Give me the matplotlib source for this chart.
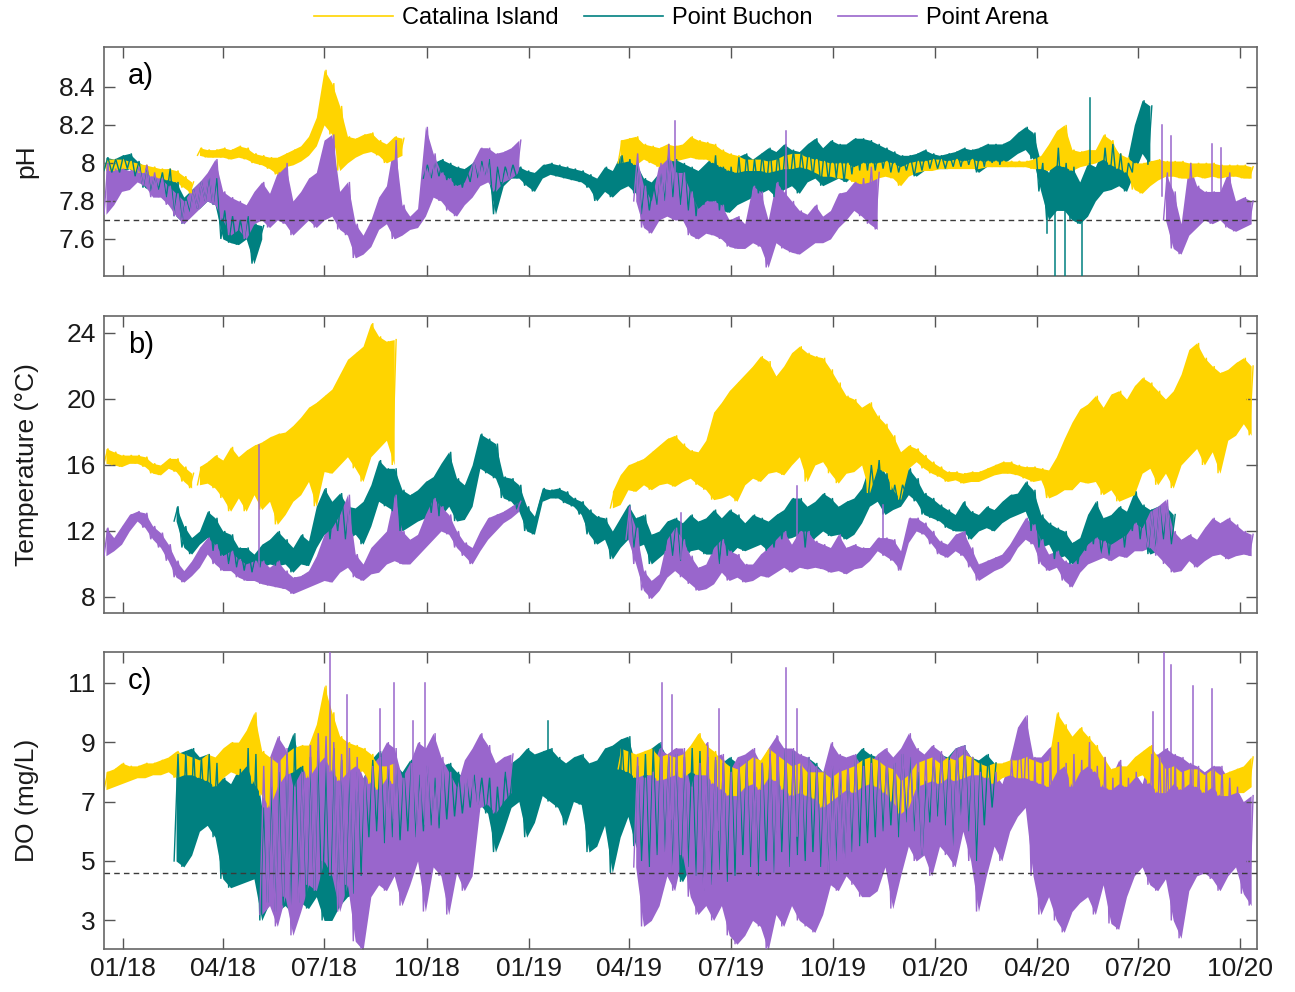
import numpy as np
import matplotlib
matplotlib.use("Agg")
import matplotlib.pyplot as plt
import matplotlib.dates as mdates
from matplotlib.lines import Line2D
from matplotlib.ticker import FuncFormatter

plt.rcParams['font.family'] = ['Liberation Sans', 'DejaVu Sans']

# ---------------- data -------------
# Weekly low / high envelopes of each record; week index counted from BASE_DATE.
# Each series: segment start weeks, weekly lows, weekly highs, and isolated
# spikes (week, extreme value) that stick out of the envelope.
BASE_DATE = "2017-12-15"
SITES = ["Catalina Island", "Point Buchon", "Point Arena"]
COLORS = ["#FFD400", "#008080", "#9966CC"]

# ---- pH ----
PH_CAT_START = [0, 12, 66]
PH_CAT_LO = [
    [7.96, 7.96, 7.97, 7.97, 7.95, 7.95, 7.93, 7.92, 7.91, 7.90, 7.87, 7.84],
    [8.04, 8.03, 8.03, 8.03, 8.02, 8.03, 8.02, 8.00, 7.99, 7.97, 7.94, 7.98, 7.99, 8.01,
     8.04, 8.09, 8.20, 8.15, 7.96, 8.00, 8.03, 8.05, 8.06, 8.04, 8.00, 8.02, 8.04],
    [8.00, 8.01, 7.99, 8.02, 8.00, 7.98, 8.02, 8.01, 8.02, 8.03,
     8.02, 8.02, 8.00, 7.98, 7.96, 7.95, 7.96, 7.96, 7.96, 7.95,
     7.96, 7.97, 7.97, 7.98, 7.97, 7.95, 7.93, 7.93, 7.92, 7.92,
     7.90, 7.89, 7.90, 7.92, 7.93, 7.92, 7.88, 7.93, 7.95, 7.96,
     7.96, 7.97, 7.97, 7.97, 7.97, 7.97, 7.97, 7.98, 7.98, 7.98,
     7.98, 7.98, 7.98, 7.97, 7.97, 7.96, 7.99, 7.98, 7.96, 7.98,
     7.99, 8.00, 8.02, 7.99, 7.97, 7.95, 7.86, 7.84, 7.88, 7.91,
     7.93, 7.93, 7.92, 7.92, 7.93, 7.92, 7.93, 7.92, 7.93, 7.93,
     7.92, 7.92],
]
PH_CAT_HI = [
    [8.02, 8.02, 8.02, 8.01, 8.00, 7.99, 7.98, 7.97, 7.97, 7.96, 7.93, 7.90],
    [8.08, 8.07, 8.07, 8.08, 8.07, 8.09, 8.08, 8.05, 8.04, 8.03, 8.03, 8.05, 8.07, 8.09,
     8.14, 8.24, 8.49, 8.42, 8.30, 8.14, 8.13, 8.15, 8.16, 8.12, 8.10, 8.14, 8.13],
    [8.12, 8.13, 8.14, 8.10, 8.09, 8.08, 8.10, 8.09, 8.10, 8.14,
     8.12, 8.11, 8.10, 8.07, 8.05, 8.04, 8.02, 8.02, 8.02, 8.01,
     8.02, 8.04, 8.05, 8.05, 8.03, 8.02, 8.01, 8.00, 8.00, 8.00,
     7.98, 8.00, 8.00, 8.00, 8.01, 8.00, 7.98, 8.00, 8.01, 8.01,
     8.02, 8.02, 8.01, 8.02, 8.01, 8.02, 8.01, 8.01, 8.01, 8.01,
     8.01, 8.01, 8.01, 8.02, 8.04, 8.10, 8.17, 8.20, 8.07, 8.06,
     8.07, 8.07, 8.15, 8.12, 8.05, 8.03, 8.00, 8.00, 8.01, 8.02,
     8.01, 8.01, 8.01, 8.00, 8.00, 8.00, 8.00, 7.99, 7.99, 7.99,
     7.99, 7.98],
]
PH_CAT_SPIKE_WEEK = []
PH_CAT_SPIKE_VAL = []

PH_BUC_START = [0, 41]
PH_BUC_LO = [
    [7.96, 7.95, 7.95, 7.97, 7.93, 7.87, 7.85, 7.86, 7.82, 7.72,
     7.68, 7.74, 7.76, 7.80, 7.78, 7.60, 7.58, 7.57, 7.60, 7.47, 7.60],
    [7.92, 7.92, 7.93, 7.91, 7.88, 7.87, 7.90, 7.92, 7.93, 7.73,
     7.88, 7.92, 7.92, 7.88, 7.85, 7.92, 7.94, 7.93, 7.92, 7.91,
     7.90, 7.87, 7.80, 7.85, 7.82, 7.86, 7.88, 7.84, 7.73, 7.75,
     7.78, 7.80, 7.82, 7.78, 7.75, 7.72, 7.78, 7.80, 7.75, 7.74,
     7.78, 7.80, 7.82, 7.84, 7.86, 7.82, 7.86, 7.88, 7.84, 7.90,
     7.92, 7.88, 7.90, 7.92, 7.90, 7.94, 7.96, 7.96, 7.96, 7.97,
     7.95, 7.95, 7.96, 7.93, 7.96, 7.97, 7.97, 7.97, 7.98, 7.98,
     7.99, 7.95, 7.98, 8.00, 7.99, 8.02, 8.05, 8.07, 8.02, 7.85,
     7.70, 7.75, 7.75, 7.70, 7.68, 7.72, 7.80, 7.85, 7.86, 7.88,
     7.85, 7.95, 8.05, 7.99],
]
PH_BUC_HI = [
    [8.03, 8.02, 8.04, 8.05, 8.01, 7.98, 7.93, 7.95, 7.97, 7.90,
     7.82, 7.86, 7.90, 7.93, 7.92, 7.75, 7.72, 7.70, 7.72, 7.68, 7.67],
    [7.99, 8.00, 8.02, 8.00, 7.98, 7.97, 8.00, 8.01, 8.02, 7.98,
     7.98, 7.99, 7.98, 7.96, 7.95, 7.99, 8.00, 7.99, 7.98, 7.97,
     7.96, 7.94, 7.92, 7.98, 7.96, 8.04, 8.02, 8.00, 7.92, 7.90,
     7.95, 8.05, 8.02, 8.00, 7.98, 7.96, 8.00, 8.04, 7.98, 7.98,
     8.03, 8.05, 8.02, 8.05, 8.08, 8.06, 8.10, 8.07, 8.06, 8.10,
     8.13, 8.08, 8.12, 8.10, 8.10, 8.13, 8.13, 8.12, 8.10, 8.08,
     8.06, 8.04, 8.04, 8.05, 8.07, 8.05, 8.04, 8.05, 8.06, 8.08,
     8.07, 8.08, 8.10, 8.10, 8.10, 8.12, 8.16, 8.19, 8.16, 8.00,
     7.95, 8.08, 8.00, 7.98, 7.90, 8.00, 7.98, 8.08, 8.10, 8.05,
     8.00, 8.20, 8.33, 8.30],
]
PH_BUC_SPIKE_WEEK = [121.0, 122.1, 123.4, 125.5, 126.6]
PH_BUC_SPIKE_VAL = [7.63, 7.30, 7.30, 7.30, 8.34]

PH_ARE_START = [0, 68, 136]
PH_ARE_LO = [
    [7.73, 7.78, 7.85, 7.86, 7.90, 7.88, 7.82, 7.82, 7.78, 7.72,
     7.68, 7.72, 7.76, 7.80, 7.78, 7.70, 7.62, 7.65, 7.60, 7.68,
     7.70, 7.66, 7.70, 7.68, 7.62, 7.66, 7.70, 7.66, 7.70, 7.72,
     7.65, 7.62, 7.50, 7.52, 7.56, 7.65, 7.68, 7.60, 7.62, 7.65,
     7.66, 7.72, 7.82, 7.80, 7.75, 7.72, 7.78, 7.82, 7.88, 7.90,
     7.85, 7.90, 7.92, 7.95],
    [7.80, 7.66, 7.63, 7.70, 7.72, 7.70, 7.70, 7.62, 7.60, 7.63,
     7.62, 7.60, 7.56, 7.55, 7.55, 7.58, 7.56, 7.45, 7.58, 7.55,
     7.53, 7.52, 7.55, 7.58, 7.58, 7.60, 7.66, 7.70, 7.75, 7.72,
     7.68, 7.65],
    [7.70, 7.55, 7.52, 7.62, 7.66, 7.70, 7.68, 7.70, 7.66, 7.64, 7.66, 7.68],
]
PH_ARE_HI = [
    [8.00, 7.97, 7.97, 7.96, 7.98, 7.99, 7.95, 7.92, 7.88, 7.84,
     7.80, 7.86, 7.90, 7.95, 8.02, 7.85, 7.82, 7.80, 7.78, 7.85,
     7.90, 7.84, 7.95, 8.00, 7.80, 7.85, 7.92, 7.95, 8.12, 8.15,
     7.85, 7.90, 7.68, 7.62, 7.70, 7.82, 7.88, 8.12, 7.78, 7.72,
     7.76, 8.19, 8.05, 7.95, 7.92, 7.88, 7.90, 8.00, 8.08, 8.08,
     8.05, 8.06, 8.08, 8.12],
    [8.05, 7.88, 7.80, 8.00, 8.10, 7.95, 7.95, 7.85, 7.76, 7.80,
     7.80, 7.78, 7.70, 7.72, 7.68, 7.88, 7.85, 7.70, 7.90, 7.85,
     7.80, 7.75, 7.73, 7.78, 7.72, 7.75, 7.84, 7.85, 7.90, 7.92,
     7.98, 7.95],
    [7.95, 7.85, 7.68, 8.00, 7.88, 7.85, 7.85, 7.85, 7.95, 7.80, 7.82, 7.80],
]
PH_ARE_SPIKE_WEEK = [73.3, 87.6, 135.8, 137.0, 142.2, 143.4]
PH_ARE_SPIKE_VAL = [8.22, 8.17, 8.20, 8.14, 8.10, 8.08]

# ---- Temperature (deg C) ----
T_CAT_START = [0, 12, 65]
T_CAT_LO = [
    [16.1, 16.0, 15.9, 16.1, 16.1, 15.9, 15.5, 15.4, 15.8, 15.6, 15.0, 14.6],
    [14.8, 14.9, 14.6, 14.0, 13.2, 14.0, 13.2, 14.2, 13.3, 13.8, 12.4, 13.0, 13.8,
     14.2, 15.0, 13.5, 15.6, 15.5, 16.0, 16.5, 15.8, 15.0, 16.5, 17.0, 17.5, 16.0],
    [13.4, 13.6, 14.5, 14.4, 14.8, 14.5, 14.8, 14.9, 14.7, 15.0,
     15.2, 14.8, 14.5, 13.9, 14.0, 14.2, 13.8, 14.8, 15.2, 15.0,
     15.5, 15.6, 15.4, 16.0, 16.5, 15.0, 16.0, 16.2, 15.5, 14.9,
     15.5, 15.6, 16.0, 14.3, 15.8, 15.6, 14.5, 13.9, 15.8, 16.2,
     15.8, 15.5, 15.3, 15.0, 15.1, 14.9, 15.0, 15.0, 15.2, 15.4,
     15.5, 15.5, 15.4, 15.2, 15.0, 15.1, 14.0, 14.2, 14.5, 14.5,
     15.0, 14.9, 15.0, 14.2, 14.5, 13.8, 14.0, 14.2, 15.5, 15.8,
     14.8, 15.5, 14.6, 16.0, 16.5, 17.0, 16.0, 16.8, 15.5, 17.5,
     17.8, 18.5, 17.8],
]
T_CAT_HI = [
    [17.0, 16.8, 16.6, 16.6, 16.6, 16.5, 16.1, 16.0, 16.4, 16.4, 15.9, 15.5],
    [15.9, 16.2, 16.6, 16.3, 17.1, 16.5, 16.9, 17.2, 17.4, 17.7, 17.9, 18.0, 18.4,
     18.9, 19.5, 19.8, 20.2, 20.6, 21.5, 22.4, 22.8, 23.2, 24.6, 23.8, 23.5, 23.6],
    [14.4, 15.4, 16.0, 16.2, 16.4, 16.8, 17.2, 17.6, 17.8, 17.3,
     16.9, 16.8, 17.5, 19.2, 19.8, 20.5, 21.0, 21.5, 22.0, 22.6,
     22.3, 21.4, 22.0, 22.8, 23.2, 22.8, 22.6, 22.5, 21.8, 21.0,
     20.2, 20.0, 19.5, 19.8, 19.0, 18.5, 17.8, 16.8, 17.2, 17.0,
     16.6, 16.2, 15.9, 15.6, 15.6, 15.5, 15.6, 15.6, 15.8, 16.0,
     16.2, 16.2, 16.0, 15.9, 15.9, 15.8, 15.7, 16.5, 17.6, 18.6,
     19.4, 19.7, 20.2, 19.5, 20.3, 20.5, 20.0, 20.8, 21.3, 21.0,
     20.5, 20.0, 20.5, 21.5, 23.0, 23.4, 22.5, 22.0, 21.6, 21.8,
     22.2, 22.5, 22.0],
]
T_CAT_SPIKE_WEEK = []
T_CAT_SPIKE_VAL = []

T_BUC_START = [9]
T_BUC_LO = [
    [12.6, 11.0, 10.6, 11.2, 11.6, 10.8, 10.5, 10.0, 9.8, 9.6,
     9.5, 9.8, 10.0, 9.9, 10.0, 9.5, 10.0, 9.9, 11.0, 11.8,
     11.5, 12.0, 11.5, 11.8, 11.2, 12.3, 13.8, 13.5, 13.2, 12.0,
     12.3, 12.6, 12.8, 13.1, 12.9, 13.5, 12.6, 12.7, 13.5, 15.8,
     15.5, 15.2, 14.0, 13.8, 13.2, 12.0, 11.8, 13.8, 14.0, 14.0,
     13.7, 13.5, 13.0, 11.8, 11.2, 11.5, 10.3, 11.0, 11.5, 11.0,
     11.2, 10.0, 10.4, 10.8, 10.5, 10.2, 10.8, 10.9, 10.6, 10.6,
     10.0, 10.5, 11.0, 10.8, 11.0, 11.2, 10.8, 11.0, 11.5, 11.6,
     11.8, 11.0, 11.6, 12.0, 11.7, 11.8, 11.5, 11.8, 12.5, 13.5,
     13.8, 13.0, 13.3, 13.5, 14.2, 13.8, 13.0, 12.8, 12.6, 12.2,
     12.0, 12.0, 11.5, 12.0, 12.2, 12.0, 12.5, 12.8, 13.0, 13.2,
     12.0, 11.0, 11.2, 10.3, 10.5, 10.0, 10.0, 10.8, 11.2, 10.5,
     10.5, 11.5, 11.0, 12.0, 11.5, 10.6, 10.8, 11.5, 11.2],
]
T_BUC_HI = [
    [13.5, 12.3, 11.6, 12.0, 13.2, 12.8, 12.0, 11.8, 11.0, 11.0,
     10.6, 11.2, 11.5, 12.0, 11.5, 11.0, 11.8, 11.4, 13.5, 14.6,
     13.8, 14.3, 13.5, 13.4, 13.8, 14.8, 16.3, 15.8, 15.8, 14.5,
     14.2, 14.5, 15.0, 15.3, 16.1, 16.8, 15.2, 14.8, 16.0, 17.9,
     17.6, 17.3, 15.3, 15.2, 14.8, 13.5, 12.9, 14.6, 14.5, 14.6,
     14.4, 14.0, 13.8, 13.3, 12.9, 12.8, 12.0, 12.8, 13.6, 12.8,
     13.0, 11.8, 12.0, 12.6, 12.8, 12.5, 13.0, 12.6, 12.8, 13.3,
     12.8, 13.3, 13.0, 12.5, 13.0, 12.8, 12.6, 13.0, 13.3, 14.0,
     14.0, 13.5, 13.8, 14.3, 14.0, 13.5, 13.8, 14.0, 14.6, 16.0,
     16.3, 15.5, 14.8, 14.8, 15.8, 15.2, 14.3, 14.0, 13.6, 13.3,
     13.0, 13.8, 13.2, 13.0, 13.5, 13.3, 13.8, 14.2, 14.3, 15.0,
     14.5, 13.0, 12.5, 12.2, 12.0, 11.3, 11.6, 13.0, 13.8, 12.8,
     13.0, 13.5, 13.2, 14.4, 13.6, 13.3, 13.5, 13.5, 13.0],
]
T_BUC_SPIKE_WEEK = []
T_BUC_SPIKE_VAL = []

T_ARE_START = [0, 67]
T_ARE_LO = [
    [10.5, 10.8, 11.2, 12.0, 12.6, 12.2, 11.5, 11.0, 10.2, 9.2,
     8.9, 9.3, 9.8, 10.6, 10.0, 9.6, 9.6, 9.2, 9.0, 9.0,
     8.8, 8.7, 8.6, 8.5, 8.2, 8.4, 8.6, 8.8, 9.0, 8.9,
     9.5, 9.8, 9.2, 9.0, 9.4, 9.5, 10.0, 10.2, 10.0, 10.0,
     10.5, 11.0, 11.5, 12.0, 11.8, 11.0, 10.5, 10.0, 10.8, 11.5,
     12.0, 12.5, 12.8, 13.2],
    [11.5, 10.0, 8.4, 7.9, 8.4, 9.2, 9.6, 9.2, 8.8, 8.4,
     8.5, 8.8, 9.5, 9.0, 9.2, 8.9, 9.0, 9.3, 9.2, 9.5,
     9.8, 9.5, 9.8, 9.7, 9.8, 9.7, 9.5, 9.6, 9.4, 9.7,
     9.8, 10.2, 10.8, 10.5, 10.2, 9.6, 11.3, 12.0, 11.8, 11.2,
     10.6, 10.4, 10.8, 10.5, 9.8, 9.0, 9.3, 9.6, 9.8, 10.2,
     11.0, 11.5, 11.2, 10.0, 9.6, 9.8, 9.0, 8.6, 9.5, 10.0,
     10.2, 10.4, 10.2, 10.5, 10.4, 10.8, 10.8, 11.0, 10.5, 10.0,
     9.5, 9.6, 10.2, 9.8, 10.2, 10.5, 10.6, 10.3, 10.5, 10.6,
     10.5],
]
T_ARE_HI = [
    [12.2, 11.6, 12.3, 13.0, 13.2, 13.1, 12.3, 11.9, 11.2, 10.2,
     9.6, 10.2, 11.0, 11.6, 11.2, 10.5, 10.8, 10.3, 10.0, 10.2,
     10.2, 9.8, 10.2, 9.6, 9.2, 9.3, 9.6, 10.5, 11.8, 12.2,
     13.0, 14.2, 10.6, 10.0, 11.0, 11.5, 12.0, 14.2, 12.0, 11.5,
     11.8, 13.0, 14.0, 13.5, 13.0, 12.0, 11.3, 11.0, 12.0, 12.8,
     13.0, 13.2, 13.5, 13.8],
    [13.5, 12.2, 9.6, 9.0, 9.4, 11.5, 12.2, 11.5, 10.5, 9.8,
     10.0, 11.0, 11.5, 10.8, 10.6, 10.0, 10.0, 10.6, 11.0, 11.5,
     12.0, 11.2, 12.0, 12.0, 11.4, 11.2, 11.0, 11.8, 11.0, 11.2,
     11.0, 11.0, 11.6, 11.6, 11.5, 10.8, 12.8, 12.8, 12.5, 12.0,
     11.4, 11.2, 11.8, 12.0, 11.0, 10.0, 10.2, 10.4, 10.6, 11.2,
     12.0, 12.8, 12.4, 11.5, 10.6, 10.8, 10.2, 10.0, 10.5, 11.2,
     11.6, 11.4, 11.2, 11.5, 11.8, 12.5, 12.2, 13.2, 13.5, 13.9,
     12.0, 11.5, 11.8, 11.5, 12.2, 12.8, 12.5, 12.8, 12.4, 12.0,
     11.8],
]
T_ARE_SPIKE_WEEK = [19.9, 74.1, 89.0, 100.0]
T_ARE_SPIKE_VAL = [17.2, 13.1, 14.7, 13.6]

# ---- Dissolved oxygen (mg/L) ----
DO_CAT_START = [0, 66]
DO_CAT_LO = [
    [7.4, 7.5, 7.6, 7.7, 7.8, 7.8, 7.9, 7.9, 8.0, 7.8,
     7.9, 7.9, 7.8, 7.7, 7.5, 7.8, 8.0, 7.9, 8.2, 7.6,
     7.2, 6.8, 7.5, 7.9, 8.0, 8.2, 7.8, 8.2, 8.5, 8.0,
     7.7, 8.0, 8.2, 8.0, 7.6, 7.4, 7.8, 7.6],
    [8.1, 8.0, 7.8, 7.9, 7.9, 7.7, 7.8, 7.9, 7.8, 8.0,
     7.9, 7.9, 7.6, 7.4, 7.2, 7.2, 7.5, 7.6, 7.4, 7.8,
     7.7, 7.4, 7.2, 7.3, 7.2, 7.1, 6.8, 7.0, 7.2, 7.4,
     7.3, 7.5, 7.6, 7.5, 7.3, 7.0, 6.6, 6.8, 7.5, 7.6,
     7.7, 7.6, 7.8, 7.7, 7.8, 7.9, 7.9, 7.8, 7.6, 7.8,
     7.9, 7.8, 7.8, 7.7, 7.6, 7.5, 8.0, 8.2, 7.5, 8.0,
     8.2, 8.0, 7.5, 7.4, 7.6, 7.5, 7.8, 7.9, 7.6, 7.3,
     7.3, 7.6, 7.4, 7.6, 7.5, 7.3, 7.5, 7.2, 7.2, 7.3,
     7.3, 7.5],
]
DO_CAT_HI = [
    [8.0, 8.1, 8.3, 8.2, 8.2, 8.3, 8.3, 8.4, 8.5, 8.7,
     8.6, 8.5, 8.4, 8.6, 8.5, 8.8, 9.0, 9.0, 9.4, 10.0,
     8.7, 8.5, 8.3, 8.6, 8.8, 8.9, 8.9, 9.6, 10.9, 10.0,
     9.2, 9.0, 8.9, 8.8, 8.6, 8.2, 8.2, 8.3],
    [8.8, 8.7, 8.6, 8.7, 8.8, 8.5, 8.6, 8.5, 8.6, 8.9,
     9.3, 8.9, 8.7, 8.4, 8.2, 8.1, 8.3, 8.5, 8.4, 8.8,
     8.6, 8.4, 8.2, 8.3, 8.0, 8.0, 8.0, 7.8, 8.0, 8.1,
     8.2, 8.4, 8.5, 8.4, 8.2, 8.1, 7.7, 7.9, 8.3, 8.4,
     8.5, 8.3, 8.5, 8.4, 8.6, 8.5, 8.3, 8.2, 8.3, 8.3,
     8.4, 8.4, 8.5, 8.4, 8.3, 8.4, 10.0, 9.6, 9.2, 9.5,
     9.2, 8.9, 8.5, 8.1, 8.2, 8.2, 8.5, 8.7, 8.9, 8.5,
     8.1, 8.2, 8.0, 8.1, 8.1, 7.9, 8.1, 7.9, 8.0, 8.1,
     8.2, 8.5],
]
DO_CAT_SPIKE_WEEK = []
DO_CAT_SPIKE_VAL = []

DO_BUC_START = [9]
DO_BUC_LO = [
    [5.0, 4.8, 5.2, 6.0, 6.2, 5.8, 4.4, 4.1, 4.2, 4.3,
     4.4, 3.0, 3.6, 3.3, 3.5, 3.2, 3.6, 3.4, 3.8, 3.0,
     3.0, 3.5, 3.8, 3.9, 4.5, 5.8, 6.0, 5.6, 5.8, 5.7,
     6.0, 5.8, 6.0, 6.2, 6.1, 6.4, 6.5, 6.6, 6.8, 6.9,
     6.6, 5.3, 6.0, 6.8, 7.0, 5.8, 6.3, 7.2, 7.0, 6.8,
     6.2, 7.0, 6.9, 5.3, 5.5, 6.2, 4.6, 5.8, 6.5, 5.5,
     5.0, 4.8, 5.2, 5.3, 4.7, 4.3, 4.8, 4.5, 4.0, 4.2,
     4.7, 4.3, 4.5, 5.2, 4.8, 4.5, 5.0, 4.6, 5.3, 4.8,
     5.2, 5.0, 5.3, 4.8, 4.6, 5.0, 4.9, 5.3, 5.5, 5.6,
     5.8, 6.0, 6.2, 5.8, 6.3, 6.0, 5.2, 6.3, 6.5, 6.2,
     5.5, 6.5, 6.0, 5.0, 6.2, 6.8],
]
DO_BUC_HI = [
    [8.6, 8.7, 8.8, 8.5, 8.6, 8.3, 7.8, 7.6, 8.1, 8.8,
     8.6, 6.8, 7.5, 8.0, 8.6, 9.3, 8.2, 8.5, 8.7, 8.4,
     8.8, 8.4, 8.0, 8.0, 7.8, 8.4, 8.7, 8.1, 8.3, 8.0,
     8.4, 7.9, 8.2, 7.8, 8.2, 8.3, 8.0, 7.8, 7.9, 7.8,
     7.8, 7.5, 8.0, 8.3, 8.5, 8.8, 8.6, 8.7, 8.8, 8.5,
     8.3, 8.5, 8.6, 8.3, 8.4, 8.8, 8.9, 9.1, 9.2, 8.2,
     8.6, 8.8, 9.0, 8.5, 8.6, 8.5, 8.8, 8.7, 8.5, 8.4,
     8.3, 8.5, 8.3, 8.4, 8.0, 8.3, 8.6, 8.4, 8.8, 8.7,
     8.2, 8.5, 8.3, 8.0, 8.2, 8.1, 8.2, 8.5, 8.8, 8.6,
     8.5, 8.4, 8.3, 8.6, 8.5, 8.0, 7.7, 8.5, 8.6, 8.5,
     8.8, 8.9, 8.5, 8.4, 8.6, 8.3],
]
DO_BUC_SPIKE_WEEK = [57.0]
DO_BUC_SPIKE_VAL = [9.7]

DO_ARE_START = [20, 68]
DO_ARE_LO = [
    [3.2, 3.5, 2.8, 3.8, 2.5, 3.3, 4.2, 4.0, 5.0, 4.5,
     3.3, 4.2, 2.3, 2.0, 3.8, 4.2, 4.0, 4.5, 3.5, 4.2,
     5.0, 3.3, 4.8, 4.5, 3.2, 4.6, 4.0, 4.5, 6.8, 6.9,
     6.6, 7.0, 7.3],
    [4.8, 2.8, 3.0, 3.5, 4.5, 4.0, 5.2, 3.8, 3.2, 3.5,
     3.0, 3.5, 2.5, 2.2, 2.5, 3.0, 2.8, 2.0, 3.2, 2.8,
     3.5, 3.0, 2.8, 2.6, 3.2, 4.2, 4.0, 4.5, 4.2, 3.8,
     3.8, 4.0, 4.8, 3.4, 4.5, 5.5, 5.0, 5.2, 4.5, 5.5,
     5.2, 4.8, 6.0, 5.0, 3.3, 4.5, 5.5, 5.0, 6.0, 6.5,
     6.8, 4.5, 3.2, 3.8, 3.0, 2.6, 3.3, 3.6, 3.8, 3.2,
     4.2, 2.9, 2.7, 3.8, 4.5, 4.8, 4.2, 4.0, 4.4, 3.0,
     2.4, 4.0, 4.5, 4.6, 4.4, 4.0, 4.5, 4.8, 3.9, 3.5],
]
DO_ARE_HI = [
    [8.2, 8.5, 9.2, 8.8, 7.5, 8.0, 8.9, 9.3, 9.2, 9.0,
     8.6, 8.8, 8.5, 7.8, 8.2, 8.5, 9.0, 8.8, 7.8, 8.3,
     9.0, 8.8, 9.3, 8.5, 8.0, 7.5, 8.4, 8.8, 9.3, 8.9,
     8.3, 8.5, 8.6],
    [8.5, 7.8, 8.0, 8.8, 8.6, 8.8, 8.8, 7.5, 8.3, 9.0,
     8.5, 8.6, 8.0, 8.5, 8.6, 8.8, 8.3, 8.8, 9.2, 8.8,
     8.8, 8.6, 8.5, 8.2, 8.0, 9.0, 8.6, 8.5, 8.6, 8.2,
     8.3, 8.6, 8.8, 8.5, 8.8, 9.3, 8.8, 8.6, 8.9, 8.7,
     8.4, 8.8, 8.9, 8.5, 8.0, 7.8, 8.0, 7.6, 8.4, 9.5,
     9.9, 8.5, 8.5, 8.8, 9.0, 8.3, 8.6, 8.4, 9.0, 8.2,
     8.5, 7.8, 8.4, 7.8, 8.0, 7.6, 8.6, 8.6, 8.8, 8.6,
     8.5, 8.3, 8.2, 8.0, 8.2, 8.2, 7.8, 7.5, 7.0, 7.2],
]
DO_ARE_SPIKE_WEEK = [29.0, 31.2, 35.4, 37.2, 39.7, 41.2, 71.6, 72.9, 79.0,
                     86.4, 87.6, 88.9, 134.7, 136.0, 137.0, 139.8, 142.2]
DO_ARE_SPIKE_VAL = [12.2, 10.6, 10.1, 11.0, 9.7, 11.0, 11.0, 10.6, 10.1,
                    9.2, 11.5, 10.1, 10.0, 12.2, 11.6, 10.9, 10.8]

PH_THRESHOLD = 7.7
DO_THRESHOLD = 4.6

# ---------------- drawing -------------
base = np.datetime64(BASE_DATE, 'h')
week_h = 7 * 24
FILL_Z = [1.2, 1.0, 1.1]   # band stacking: Buchon lowest, Arena, Catalina on top


def to_dates(weeks):
    hrs = np.round(np.asarray(weeks, float) * week_h).astype('timedelta64[h]')
    return (base + hrs).astype('datetime64[s]').astype(object)


def draw(ax, k, starts, los, his, sp_w, sp_v):
    color = COLORS[k]
    all_w, all_mid = [], []
    for s, lo, hi in zip(starts, los, his):
        n = min(len(lo), len(hi))
        lo = np.asarray(lo[:n], float)
        hi = np.asarray(hi[:n], float)
        w = s + np.arange(n, dtype=float)
        # dense high-frequency record: weekly envelope band under all traces
        ax.fill_between(to_dates(w + 0.25), lo, hi, color=color, lw=0,
                        zorder=FILL_Z[k])
        # trace alternating between the weekly lows and highs
        tw = np.empty(2 * n)
        v = np.empty(2 * n)
        tw[0::2] = w
        tw[1::2] = w + 0.5
        v[0::2] = lo
        v[1::2] = hi
        ax.plot(to_dates(tw), v, color=color, lw=1.0, zorder=2 + k,
                solid_joinstyle='miter')
        all_w.append(w)
        all_mid.append((lo + hi) / 2)
    if sp_w:
        ww = np.concatenate(all_w)
        mm = np.concatenate(all_mid)
        for wk, val in zip(sp_w, sp_v):
            b = np.interp(wk, ww, mm)
            d = to_dates([wk, wk])
            ax.plot(d, [b, val], color=color, lw=1.1, zorder=2 + k)


W, H = 1295, 992
fig = plt.figure(figsize=(W / 100, H / 100), dpi=100)

L, R = 104, 1257
panels = [(47, 276), (316, 613), (652, 949)]
axes = []
for top, bot in panels:
    ax = fig.add_axes([L / W, 1 - bot / H, (R - L) / W, (bot - top) / H])
    axes.append(ax)

xmin = np.datetime64('2017-12-15').astype(object)
xmax = np.datetime64('2020-10-16').astype(object)

series = [
    (axes[0], [(PH_CAT_START, PH_CAT_LO, PH_CAT_HI, PH_CAT_SPIKE_WEEK, PH_CAT_SPIKE_VAL),
               (PH_BUC_START, PH_BUC_LO, PH_BUC_HI, PH_BUC_SPIKE_WEEK, PH_BUC_SPIKE_VAL),
               (PH_ARE_START, PH_ARE_LO, PH_ARE_HI, PH_ARE_SPIKE_WEEK, PH_ARE_SPIKE_VAL)]),
    (axes[1], [(T_CAT_START, T_CAT_LO, T_CAT_HI, T_CAT_SPIKE_WEEK, T_CAT_SPIKE_VAL),
               (T_BUC_START, T_BUC_LO, T_BUC_HI, T_BUC_SPIKE_WEEK, T_BUC_SPIKE_VAL),
               (T_ARE_START, T_ARE_LO, T_ARE_HI, T_ARE_SPIKE_WEEK, T_ARE_SPIKE_VAL)]),
    (axes[2], [(DO_CAT_START, DO_CAT_LO, DO_CAT_HI, DO_CAT_SPIKE_WEEK, DO_CAT_SPIKE_VAL),
               (DO_BUC_START, DO_BUC_LO, DO_BUC_HI, DO_BUC_SPIKE_WEEK, DO_BUC_SPIKE_VAL),
               (DO_ARE_START, DO_ARE_LO, DO_ARE_HI, DO_ARE_SPIKE_WEEK, DO_ARE_SPIKE_VAL)]),
]
for ax, sl in series:
    for k, args in enumerate(sl):
        draw(ax, k, *args)

axes[0].axhline(PH_THRESHOLD, color='#3a3a3a', lw=1.0, ls=(0, (4, 3)), zorder=6)
axes[2].axhline(DO_THRESHOLD, color='#3a3a3a', lw=1.0, ls=(0, (4, 3)), zorder=6)

ylims = [(7.405, 8.61), (7.03, 25.03), (2.04, 12.03)]
yticks = [[7.6, 7.8, 8.0, 8.2, 8.4], [8, 12, 16, 20, 24], [3, 5, 7, 9, 11]]
ylabels = ['pH', 'Temperature (°C)', 'DO (mg/L)']
plabels = ['a)', 'b)', 'c)']

fmt = FuncFormatter(lambda v, p: ('%.1f' % v).rstrip('0').rstrip('.'))
for i, ax in enumerate(axes):
    ax.set_xlim(xmin, xmax)
    ax.set_ylim(*ylims[i])
    ax.set_yticks(yticks[i])
    ax.yaxis.set_major_formatter(fmt)
    ax.xaxis.set_major_locator(mdates.MonthLocator(bymonth=[1, 4, 7, 10]))
    ax.xaxis.set_major_formatter(mdates.DateFormatter('%m/%y'))
    ax.tick_params(direction='in', length=8, width=1.0, color='#555555',
                   top=True, right=True, labelsize=19, pad=6, labelcolor='#1a1a1a')
    for sp in ax.spines.values():
        sp.set_color('#666666')
        sp.set_linewidth(1.2)
    if i < 2:
        ax.tick_params(labelbottom=False)
    ax.set_ylabel(ylabels[i], fontsize=19, va='center', color='#1a1a1a')
    ax.yaxis.set_label_coords(-0.067, 0.5)
    hpx = panels[i][1] - panels[i][0]
    ax.text(0.021, 1 - 29 / hpx, plabels[i], transform=ax.transAxes,
            fontsize=21, ha='left', va='center', color='black', zorder=10)

handles = [Line2D([], [], color=c, lw=1.2) for c in COLORS]
fig.legend(handles, SITES, loc='center', bbox_to_anchor=(0.526, 0.982), ncol=3,
           frameon=False, fontsize=17, handlelength=3.35, handletextpad=0.4,
           columnspacing=1.05)

fig.savefig('out.png', dpi=100)
